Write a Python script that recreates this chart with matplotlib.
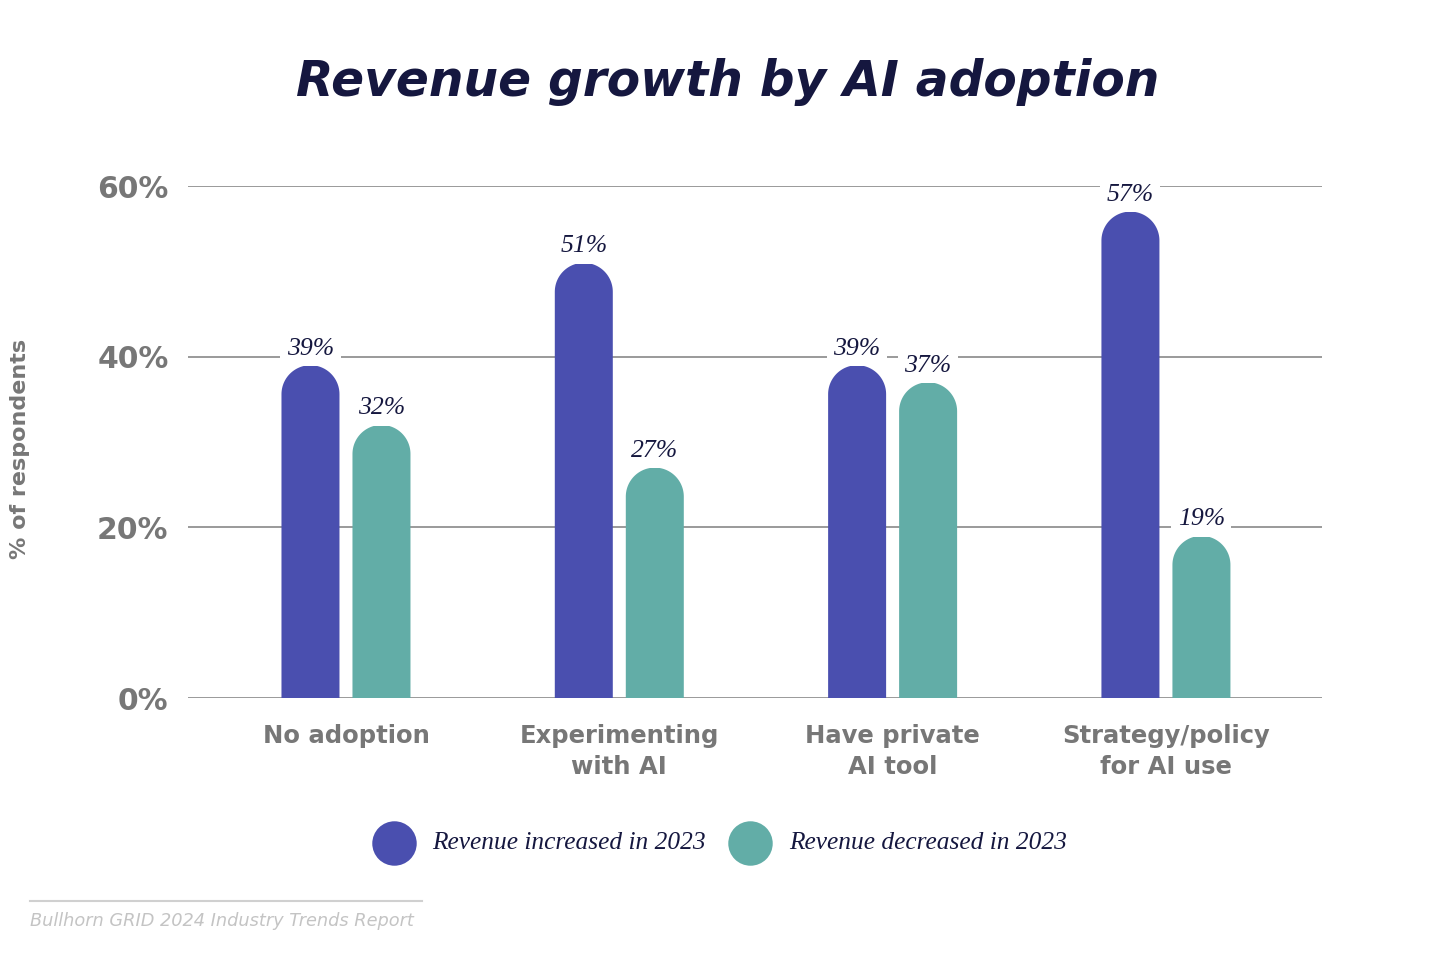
import matplotlib
matplotlib.use("Agg")
import numpy as np
import matplotlib.pyplot as plt
from matplotlib.patches import PathPatch
from matplotlib.path import Path
from matplotlib.lines import Line2D

categories = ["No adoption", "Experimenting\nwith AI", "Have private\nAI tool", "Strategy/policy\nfor AI use"]
increased = [39, 51, 39, 57]
decreased = [32, 27, 37, 19]
series_names = ["Revenue increased in 2023", "Revenue decreased in 2023"]
yticks = [0, 20, 40, 60]
ytick_labels = ["0%", "20%", "40%", "60%"]

PURPLE = "#4A4FAF"
TEAL = "#62ADA7"
NAVY = "#15173F"
GRAY = "#777777"
GRID = "#9a9a9a"

W, H = 1440, 956
fig = plt.figure(figsize=(W / 100, H / 100), dpi=100)
ax = fig.add_axes([188 / W, (H - 698) / H, (1322 - 188) / W, 512 / H])
ax.set_xlim(-0.578, 3.571)
ax.set_ylim(0, 60)

for s in ax.spines.values():
    s.set_visible(False)
ax.set_yticks(yticks)
ax.set_yticklabels(ytick_labels)
ax.tick_params(axis="y", length=0, pad=14, labelsize=21.5, labelcolor=GRAY)
for t in ax.get_yticklabels():
    t.set_fontweight("bold")
ax.set_xticks(range(len(categories)))
ax.set_xticklabels(categories, linespacing=1.35)
ax.tick_params(axis="x", length=0, pad=19, labelsize=17.5, labelcolor=GRAY)
for t in ax.get_xticklabels():
    t.set_fontweight("bold")
    t.set_va("top")
ax.grid(axis="y", color=GRID, linewidth=1.4, zorder=0)
ax.set_axisbelow(True)

# pixel scales
px_x = (1322 - 188) / (3.571 + 0.578)
px_y = 512 / 60.0
bar_w = 58 / px_x
offset = 35.5 / px_x
r_px = 29
r_y = r_px / px_y
theta = np.linspace(np.pi, 0, 60)


def rounded_bar(xc, val, color):
    base = val - r_y
    xs = [xc - bar_w / 2] + list(xc + (bar_w / 2) * np.cos(theta)) + [xc + bar_w / 2]
    ys = [0] + list(base + r_y * np.sin(theta)) + [0]
    verts = list(zip(xs, ys)) + [(xs[0], ys[0])]
    codes = [Path.MOVETO] + [Path.LINETO] * (len(verts) - 2) + [Path.CLOSEPOLY]
    ax.add_patch(PathPatch(Path(verts, codes), facecolor=color, edgecolor="none", zorder=2))
    ax.annotate(f"{val}%", (xc, val), xytext=(0, 12), textcoords="offset points",
                ha="center", va="center", fontsize=18.5, style="italic",
                family="Liberation Serif", color=NAVY, zorder=4,
                bbox=dict(boxstyle="square,pad=0.25", facecolor="white", edgecolor="none"))


for i in range(len(categories)):
    rounded_bar(i - offset, increased[i], PURPLE)
    rounded_bar(i + offset, decreased[i], TEAL)

# title
fig.text(728 / W, 1 - 82 / H, "Revenue growth by AI adoption", ha="center", va="center",
         fontsize=35, fontweight="bold", style="italic", color=NAVY)

# y label
fig.text(20 / W, 1 - 449 / H, "% of respondents", rotation=90, ha="center", va="center",
         fontsize=16, fontweight="bold", color=GRAY)

# legend
for (cx, col, tx, name) in [(394, PURPLE, 432, series_names[0]), (750, TEAL, 789, series_names[1])]:
    fig.add_artist(Line2D([cx / W], [1 - 843 / H], marker="o", markersize=32,
                          markerfacecolor=col, markeredgecolor="none", linestyle="none",
                          transform=fig.transFigure))
    fig.text(tx / W, 1 - 843 / H, name, ha="left", va="center", fontsize=18.3,
             style="italic", family="Liberation Serif", color=NAVY)

# source line & text
fig.add_artist(Line2D([30 / W, 422 / W], [1 - 901 / H, 1 - 901 / H], color="#d0d0d0",
                      linewidth=1.5, transform=fig.transFigure))
fig.text(30 / W, 1 - 921 / H, "Bullhorn GRID 2024 Industry Trends Report", ha="left",
         va="center", fontsize=12.8, style="italic", color="#c4c4c4")

fig.savefig("out.png", dpi=100, facecolor="white")
